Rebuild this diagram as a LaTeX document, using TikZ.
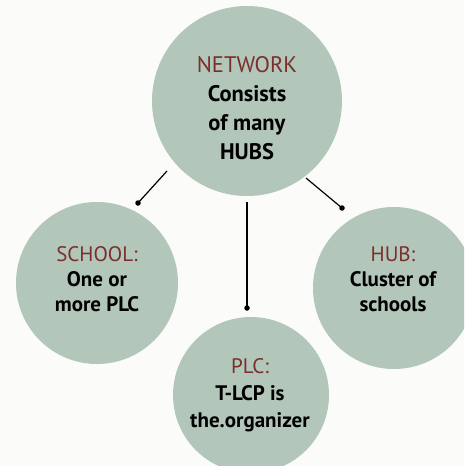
\documentclass[tikz,border=0pt]{standalone}
\usepackage{fontspec}
\setmainfont{PT Sans}
\definecolor{bg}{HTML}{FBFBFA}
\definecolor{disc}{HTML}{B2C6BA}
\definecolor{head}{HTML}{7B2F2A}
\begin{document}
\begin{tikzpicture}[x=1pt,y=-1pt,
  discstyle/.style={circle,fill=disc,inner sep=0pt},
  label/.style={align=center,font=\bfseries\fontsize{21}{25}\selectfont,text=black},
  biglabel/.style={align=center,font=\bfseries\fontsize{22.5}{29}\selectfont,text=black},
  link/.style={line width=1.2pt,black},
  enddot/.style={circle,fill=black,inner sep=0pt,minimum size=5.5pt}]
\fill[bg] (0,0) rectangle (464,466);
\useasboundingbox (0,0) rectangle (464,466);
\begin{scope}
\clip (0,0) rectangle (464,466);
\node[discstyle,minimum size=190pt] (net) at (247,101) {};
\node[discstyle,minimum size=162pt] (school) at (97,283) {};
\node[discstyle,minimum size=162pt] (hub) at (394,288) {};
\node[discstyle,minimum size=156pt] (plc) at (251,395) {};
\end{scope}
\node[biglabel] (nettext) at (247,108) {\textcolor{head}{\mdseries NETWORK}\\Consists\\of many\\HUBS};
\node[label] (schooltext) at (97,279) {\textcolor{head}{\mdseries SCHOOL:}\\One or\\more PLC};
\node[label] (hubtext) at (393,279) {\textcolor{head}{\mdseries HUB:}\\Cluster of\\schools};
\node[label,font=\bfseries\fontsize{21}{27}\selectfont] (plctext) at (250,395) {\textcolor{head}{\mdseries PLC:}\\T-LCP is\\the.organizer};
\coordinate (a1) at (167,171);
\coordinate (a2) at (138,203);
\coordinate (b1) at (306,178);
\coordinate (b2) at (342,208);
\coordinate (c1) at (247,202);
\coordinate (c2) at (247,308);
\draw[link] (a1) -- (a2);
\draw[link] (b1) -- (b2);
\draw[link] (c1) -- (c2);
\node[enddot] (d1) at (a2) {};
\node[enddot] (d2) at (b2) {};
\node[enddot] (d3) at (c2) {};
\end{tikzpicture}
\end{document}
